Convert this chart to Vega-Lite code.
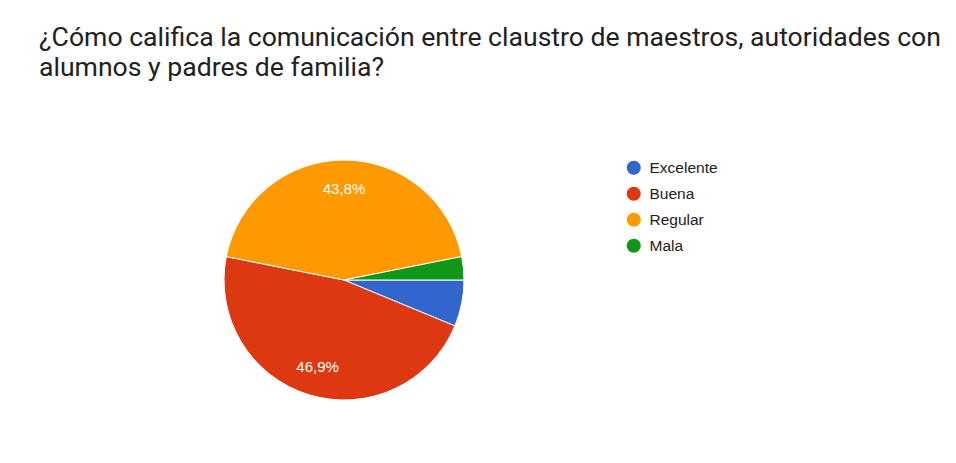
{
  "$schema": "https://vega.github.io/schema/vega-lite/v6.json",
  "autosize": "none",
  "width": 240,
  "height": 240,
  "padding": {"left": 224, "top": 160, "right": 492, "bottom": 63},
  "background": "white",
  "config": {
    "view": {"stroke": null},
    "locale": {"number": {"decimal": ",", "thousands": ".", "grouping": [3], "currency": ["", " €"]}}
  },
  "title": {
    "text": ["¿Cómo califica la comunicación entre claustro de maestros, autoridades con", "alumnos y padres de familia?"],
    "anchor": "start",
    "frame": "group",
    "orient": "top",
    "offset": 76,
    "dx": -185,
    "font": "Roboto",
    "fontSize": 26.6,
    "fontWeight": "normal",
    "lineHeight": 30,
    "color": "#212121"
  },
  "data": {
    "values": [
      {"respuesta": "Excelente", "value": 2, "pct": 0.0625, "orden": 1},
      {"respuesta": "Buena", "value": 15, "pct": 0.46875, "orden": 2},
      {"respuesta": "Regular", "value": 14, "pct": 0.4375, "orden": 3},
      {"respuesta": "Mala", "value": 1, "pct": 0.03125, "orden": 4}
    ]
  },
  "encoding": {
    "theta": {"field": "value", "type": "quantitative", "stack": true, "scale": {"range": [1.5707963, 7.8539816]}},
    "order": {"field": "orden", "type": "quantitative"}
  },
  "layer": [
    {
      "mark": {"type": "arc", "stroke": "white", "strokeWidth": 1},
      "encoding": {
        "color": {
          "field": "respuesta",
          "type": "nominal",
          "scale": {"domain": ["Excelente", "Buena", "Regular", "Mala"], "range": ["#3366cc", "#dc3912", "#ff9900", "#109618"]},
          "legend": {
            "title": null,
            "orient": "none",
            "legendX": 402,
            "legendY": 0,
            "padding": 0,
            "symbolType": "circle",
            "symbolSize": 200,
            "symbolStrokeWidth": 0,
            "rowPadding": 9,
            "labelOffset": 8,
            "labelFont": "Liberation Sans",
            "labelFontSize": 15.5,
            "labelColor": "#212121"
          }
        }
      }
    },
    {
      "mark": {"type": "text", "radius": 91, "font": "Liberation Sans", "fontSize": 15, "color": "white"},
      "encoding": {
        "text": {"condition": {"test": "datum.pct < 0.1", "value": ""}, "field": "pct", "type": "quantitative", "format": ".1%"}
      }
    }
  ]
}
